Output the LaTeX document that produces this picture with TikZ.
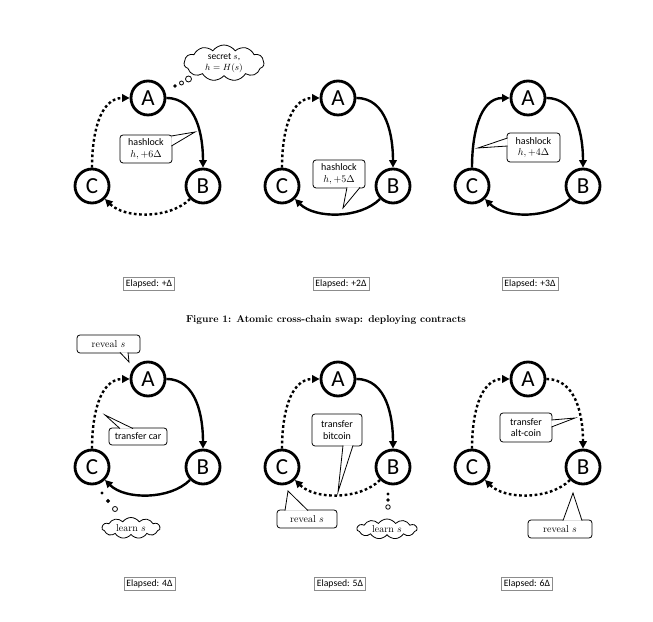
\documentclass[tikz,border=0pt]{standalone}
\usepackage{fontspec}
\setsansfont{Carlito}
\usetikzlibrary{arrows.meta,shapes.symbols}
\tikzset{
  party/.style={circle, draw, line width=2.8pt, minimum size=34pt, inner sep=0pt, font=\fontsize{23}{23}\selectfont\sffamily},
  solidarr/.style={line width=2.4pt, -{Triangle[length=7.5pt,width=7.5pt]}},
  dotarr/.style={solidarr, dash pattern=on 2.7pt off 2.5pt},
  note/.style={draw, line width=0.8pt, rounded corners=3pt, fill=white, align=center, inner sep=1pt, font=\fontsize{10}{11.5}\selectfont\sffamily},
  snote/.style={note, font=\fontsize{10}{11.5}\selectfont\rmfamily},
  ptr/.style={draw, line width=0.8pt, fill=white, line join=miter},
  thought/.style={cloud, draw, line width=0.8pt, cloud puffs=11, cloud puff arc=110, cloud ignores aspect, inner sep=0pt, align=center},
  bubble/.style={circle, draw, line width=0.8pt, inner sep=0pt},
  elapsed/.style={draw=black!45, line width=0.6pt, inner xsep=2.5pt, inner ysep=1.5pt, minimum height=13pt, font=\fontsize{9.7}{11}\selectfont\sffamily}
}
\begin{document}
\begin{tikzpicture}[x=1pt,y=1pt]
\useasboundingbox[fill=white] (0,0) rectangle (653,621);

% ---------- Panel 1 ----------
\begin{scope}[shift={(92,435)}]
  \node[party] (A1) at (56,88) {A};
  \node[party] (B1) at (111,0) {B};
  \node[party] (C1) at (0,0) {C};
  \draw[solidarr] (A1) to[out=0,in=90] (B1);
  \draw[dotarr] (B1) to[out=225,in=-45,looseness=0.85] (C1);
  \draw[dotarr] (C1) to[out=90,in=180] (A1);
  \node[note, minimum width=52pt, minimum height=28pt] (h1) at (54,37) {hashlock\\$h,+6\Delta$};
  \filldraw[ptr] (79.4,50) -- (103,54) -- (79.4,40);
  \node[thought, minimum width=80pt, minimum height=36pt, font=\fontsize{9.5}{11}\selectfont\sffamily] (s1) at (132,123) {secret $s$,\\$h = H(s)$};
  \node[bubble, fill=black, minimum size=2.5pt] (b11) at (83,100) {};
  \node[bubble, minimum size=4pt] (b12) at (89.5,103) {};
  \node[bubble, minimum size=6pt] (b13) at (96.5,107) {};
\end{scope}

% ---------- Panel 2 ----------
\begin{scope}[shift={(282,435)}]
  \node[party] (A2) at (56,88) {A};
  \node[party] (B2) at (111,0) {B};
  \node[party] (C2) at (0,0) {C};
  \draw[solidarr] (A2) to[out=0,in=90] (B2);
  \draw[solidarr] (B2) to[out=225,in=-45,looseness=0.85] (C2);
  \draw[dotarr] (C2) to[out=90,in=180] (A2);
  \node[note, minimum width=52pt, minimum height=28pt] (h2) at (57,12) {hashlock\\$h,+5\Delta$};
  \filldraw[ptr] (65,-1.4) -- (61,-22) -- (78,-1.4);
\end{scope}

% ---------- Panel 3 ----------
\begin{scope}[shift={(472,435)}]
  \node[party] (A3) at (56,88) {A};
  \node[party] (B3) at (111,0) {B};
  \node[party] (C3) at (0,0) {C};
  \draw[solidarr] (A3) to[out=0,in=90] (B3);
  \draw[solidarr] (B3) to[out=225,in=-45,looseness=0.85] (C3);
  \draw[solidarr] (C3) to[out=90,in=180] (A3);
  \node[note, minimum width=53pt, minimum height=29pt] (h3) at (61.5,38.5) {hashlock\\$h,+4\Delta$};
  \filldraw[ptr] (35.6,48) -- (6,38) -- (35.6,40);
\end{scope}

% ---------- Panel 4 ----------
\begin{scope}[shift={(92,154)}]
  \node[party] (A4) at (56,88) {A};
  \node[party] (B4) at (111,0) {B};
  \node[party] (C4) at (0,0) {C};
  \draw[solidarr] (A4) to[out=0,in=90] (B4);
  \draw[solidarr] (B4) to[out=225,in=-45,looseness=0.85] (C4);
  \draw[dotarr] (C4) to[out=90,in=180] (A4);
  \node[snote, minimum width=63pt, minimum height=18pt] (r4) at (16.5,123) {reveal $s$};
  \filldraw[ptr] (28,114.6) -- (37,105) -- (36,114.6);
  \node[note, minimum width=58pt, minimum height=17pt] (t4) at (46,30.5) {transfer car};
  \filldraw[ptr] (28,38.4) -- (13,52) -- (41,38.4);
  \node[thought, minimum width=58pt, minimum height=21pt, font=\fontsize{10}{11.5}\selectfont\rmfamily] (l4) at (39,-61) {learn $s$};
  \node[bubble, fill=black, minimum size=2pt] (b41) at (10,-26) {};
  \node[bubble, fill=black, minimum size=3pt] (b42) at (16,-34) {};
  \node[bubble, minimum size=5pt] (b43) at (23,-42) {};
\end{scope}

% ---------- Panel 5 ----------
\begin{scope}[shift={(282,154)}]
  \node[party] (A5) at (56,88) {A};
  \node[party] (B5) at (111,0) {B};
  \node[party] (C5) at (0,0) {C};
  \draw[solidarr] (A5) to[out=0,in=90] (B5);
  \draw[dotarr] (B5) to[out=225,in=-45,looseness=0.85] (C5);
  \draw[dotarr] (C5) to[out=90,in=180] (A5);
  \node[note, minimum width=50pt, minimum height=32pt] (t5) at (55,37) {transfer\\bitcoin};
  \filldraw[ptr] (61,21.6) -- (56,-25) -- (71,21.6);
  \node[snote, minimum width=60pt, minimum height=18pt] (r5) at (25,-52) {reveal $s$};
  \filldraw[ptr] (3,-43.6) -- (6,-24) -- (26,-43.6);
  \node[thought, minimum width=60pt, minimum height=20pt, font=\fontsize{10}{11.5}\selectfont\rmfamily] (l5) at (105,-62) {learn $s$};
  \node[bubble, fill=black, minimum size=2pt] (b51) at (106,-27) {};
  \node[bubble, fill=black, minimum size=2.5pt] (b52) at (106,-33) {};
  \node[bubble, minimum size=4.5pt] (b53) at (106,-40) {};
\end{scope}

% ---------- Panel 6 ----------
\begin{scope}[shift={(472,154)}]
  \node[party] (A6) at (56,88) {A};
  \node[party] (B6) at (111,0) {B};
  \node[party] (C6) at (0,0) {C};
  \draw[dotarr] (A6) to[out=0,in=90] (B6);
  \draw[dotarr] (B6) to[out=225,in=-45,looseness=0.85] (C6);
  \draw[dotarr] (C6) to[out=90,in=180] (A6);
  \node[note, minimum width=52pt, minimum height=29pt] (t6) at (54,39.5) {transfer\\alt-coin};
  \filldraw[ptr] (79.4,47) -- (103,49) -- (79.4,40);
  \node[snote, minimum width=64pt, minimum height=18pt] (r6) at (88,-62) {reveal $s$};
  \filldraw[ptr] (91,-53.6) -- (101,-26) -- (110,-53.6);
\end{scope}

% ---------- labels ----------
\node[elapsed] (e1) at (149,337) {Elapsed: +Δ};
\node[elapsed] (e2) at (341,337) {Elapsed: +2Δ};
\node[elapsed] (e3) at (530,337) {Elapsed: +3Δ};
\node[elapsed] (e4) at (149.5,37.5) {Elapsed: 4Δ};
\node[elapsed] (e5) at (340,37.5) {Elapsed: 5Δ};
\node[elapsed] (e6) at (527,37.5) {Elapsed: 6Δ};
\node[font=\fontsize{10}{12}\selectfont\bfseries] (cap) at (326,301) {Figure 1: Atomic cross-chain swap: deploying contracts};
\end{tikzpicture}
\end{document}
